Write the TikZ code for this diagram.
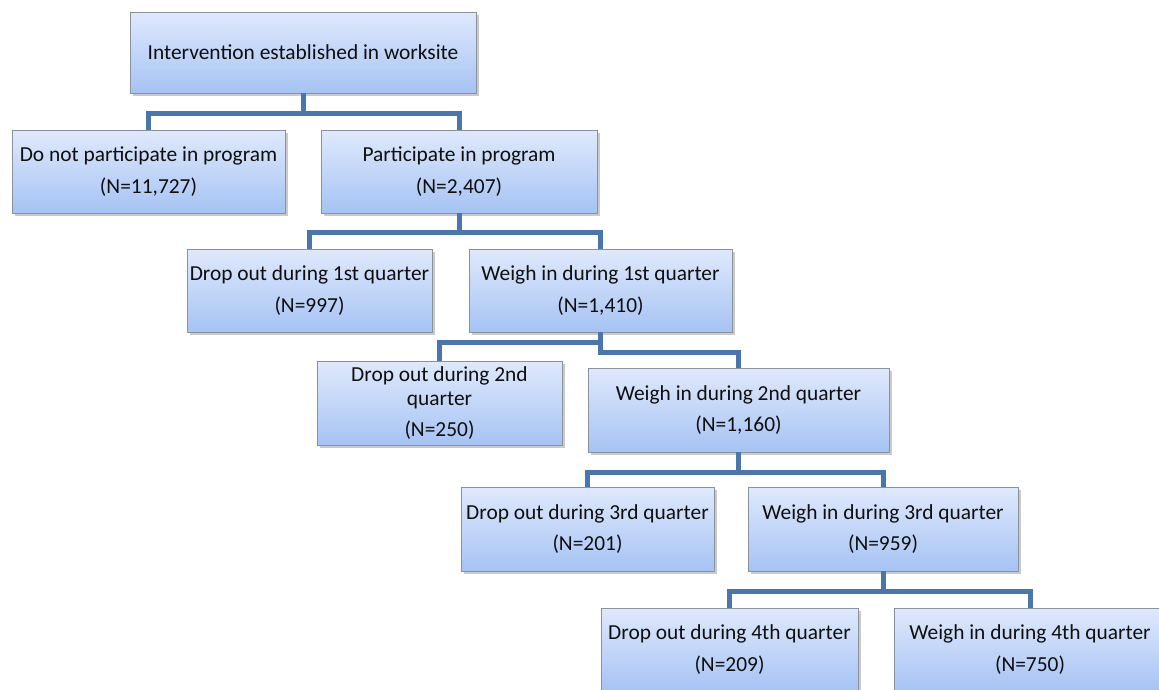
\documentclass[tikz,border=0pt]{standalone}
\usepackage{fontspec}
\setmainfont{Carlito}
\usetikzlibrary{shadows,calc}
\definecolor{boxtop}{HTML}{DFE9FC}
\definecolor{boxbot}{HTML}{A6C3F4}
\definecolor{boxline}{HTML}{8A929C}
\definecolor{conncol}{HTML}{4A76AC}
\definecolor{txt}{HTML}{0F0F0F}
\tikzset{
  fbox/.style={draw=boxline, line width=0.9pt, top color=boxtop, bottom color=boxbot,
    shading angle=0, align=center, inner sep=0pt, text=txt,
    font=\fontsize{21.4}{24.5}\selectfont,
    drop shadow={shadow xshift=2.5pt, shadow yshift=-3pt, opacity=0.35, fill=black!60}},
  conn/.style={draw=conncol, line width=5pt, line join=miter}
}
\begin{document}
\begin{tikzpicture}[x=1pt,y=-1pt]
\useasboundingbox (0,0) rectangle (1159,689);
\node[fbox, minimum width=346pt, minimum height=81pt] (top) at (303,52.5) {Intervention established in worksite};
\node[fbox, minimum width=273pt, minimum height=83pt] (dnp) at (148.5,171.5) {Do not participate in program\\[7pt](N=11,727)};
\node[fbox, minimum width=276pt, minimum height=83pt] (part) at (459,171.5) {Participate in program\\[7pt](N=2,407)};
\node[fbox, minimum width=245pt, minimum height=83pt] (d1) at (309.5,290.5) {Drop out during 1st quarter\\[7pt](N=997)};
\node[fbox, minimum width=263pt, minimum height=83pt] (w1) at (600.5,290.5) {Weigh in during 1st quarter\\[7pt](N=1,410)};
\node[fbox, minimum width=245pt, minimum height=84pt] (d2) at (439.5,403) {Drop out during 2nd\\quarter\\[6pt](N=250)};
\node[fbox, minimum width=301pt, minimum height=84pt] (w2) at (738.5,410) {Weigh in during 2nd quarter\\[7pt](N=1,160)};
\node[fbox, minimum width=253pt, minimum height=84pt] (d3) at (587.5,529) {Drop out during 3rd quarter\\[7pt](N=201)};
\node[fbox, minimum width=270pt, minimum height=84pt] (w3) at (883,529) {Weigh in during 3rd quarter\\[7pt](N=959)};
\node[fbox, minimum width=257pt, minimum height=83pt] (d4) at (729.5,649.5) {Drop out during 4th quarter\\[7pt](N=209)};
\node[fbox, minimum width=272pt, minimum height=83pt] (w4) at (1030,649.5) {Weigh in during 4th quarter\\[7pt](N=750)};
\coordinate (b1) at (0,113);
\coordinate (b2) at (0,232);
\coordinate (b3a) at (0,342);
\coordinate (b3b) at (0,352);
\coordinate (b4) at (0,472);
\coordinate (b5) at (0,591);
\draw[conn] (top.south) -- (top.south |- b1) -| (dnp.north);
\draw[conn] (top.south) -- (top.south |- b1) -| (part.north);
\draw[conn] (part.south) -- (part.south |- b2) -| (d1.north);
\draw[conn] (part.south) -- (part.south |- b2) -| (w1.north);
\draw[conn] (w1.south) -- (w1.south |- b3a) -| (d2.north);
\draw[conn] (w1.south) -- (w1.south |- b3b) -| (w2.north);
\draw[conn] (w2.south) -- (w2.south |- b4) -| (d3.north);
\draw[conn] (w2.south) -- (w2.south |- b4) -| (w3.north);
\draw[conn] (w3.south) -- (w3.south |- b5) -| (d4.north);
\draw[conn] (w3.south) -- (w3.south |- b5) -| (w4.north);
\end{tikzpicture}
\end{document}
